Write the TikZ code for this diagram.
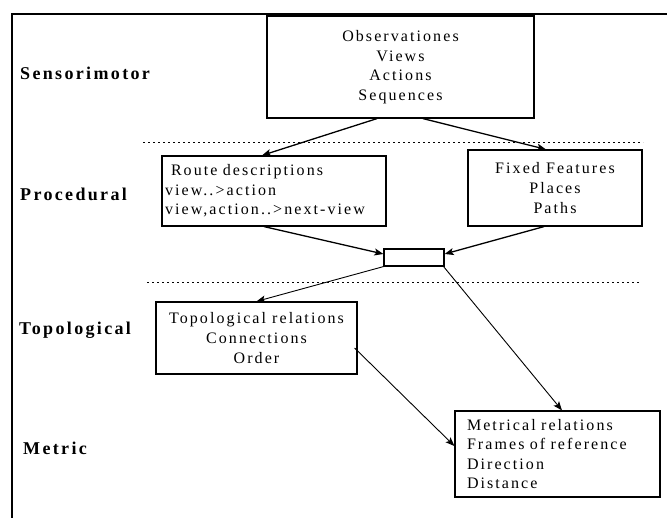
\documentclass[tikz,border=0pt]{standalone}
\usepackage{fontspec}
\setmainfont{Liberation Serif}[LetterSpace=13]
\newfontfamily\levelfont{Liberation Serif}[LetterSpace=13]
\usetikzlibrary{arrows.meta}

\begin{document}
\begin{tikzpicture}[x=1pt,y=-1pt,
  >={Stealth[length=9pt,width=7pt,inset=2pt]},
  level/.style={anchor=west,inner sep=0pt,
    font=\levelfont\bfseries\fontsize{18}{20}\selectfont},
  box/.style={draw,line width=1.2pt,inner sep=0pt,
    font=\fontsize{16}{19.6}\selectfont},
  flow/.style={->,line width=1.3pt},
  thinflow/.style={->,line width=0.9pt},
  layer/.style={dash pattern=on 2pt off 3pt,line width=0.8pt}]
  \useasboundingbox (0,0) rectangle (667,518);
  % frame
  \draw[line width=2pt] (12,518) -- (12,14) -- (667,14);
  % level names
  \node[level] (sens) at (20,73) {Sensorimotor};
  \node[level] (proc) at (20,194) {Procedural};
  \node[level] (topl) at (19,330) {Topological};
  \node[level] (metl) at (23,448) {Metric};
  % layer separators
  \draw[layer] (143,142) -- (643,142);
  \draw[layer] (147,282) -- (640,282);
  % boxes
  \node[box,minimum width=267pt,minimum height=102pt,align=center]
    (obs) at (400.5,67) {Observationes\\Views\\Actions\\Sequences};
  \node[box,minimum width=224pt,minimum height=70pt,text width=218pt,
    align=left] (route) at (274,191)
    {\hspace*{6pt}Route descriptions\\view..>action\\view,action..>next-view};
  \node[box,minimum width=174pt,minimum height=76pt,align=center]
    (fixed) at (555,188) {Fixed Features\\Places\\Paths};
  \node[box,minimum width=60pt,minimum height=17pt] (join) at (414,257.5) {};
  \node[box,minimum width=201pt,minimum height=72pt,align=center]
    (topo) at (256.5,338) {Topological relations\\Connections\\Order};
  \node[box,minimum width=205pt,minimum height=86pt,text width=181pt,
    align=left] (metric) at (557.5,454)
    {Metrical relations\\Frames of reference\\Direction\\Distance};
  % connectors
  \draw[flow] ([xshift=-23.5pt]obs.south) -- ([xshift=-12pt]route.north);
  \draw[flow] ([xshift=22.5pt]obs.south) -- ([xshift=-9pt]fixed.north);
  \draw[flow] ([xshift=-10pt]route.south) -- ([yshift=3.5pt]join.west);
  \draw[flow] ([xshift=-11pt]fixed.south) -- ([yshift=3.5pt]join.east);
  \draw[thinflow] (join.south west) -- (topo.north);
  \draw[thinflow] ([xshift=-1pt]join.south east) -- ([xshift=4.5pt]metric.north);
  \draw[thinflow] ([xshift=-3pt,yshift=-10pt]topo.east) -- ([yshift=8pt]metric.west);
\end{tikzpicture}
\end{document}
